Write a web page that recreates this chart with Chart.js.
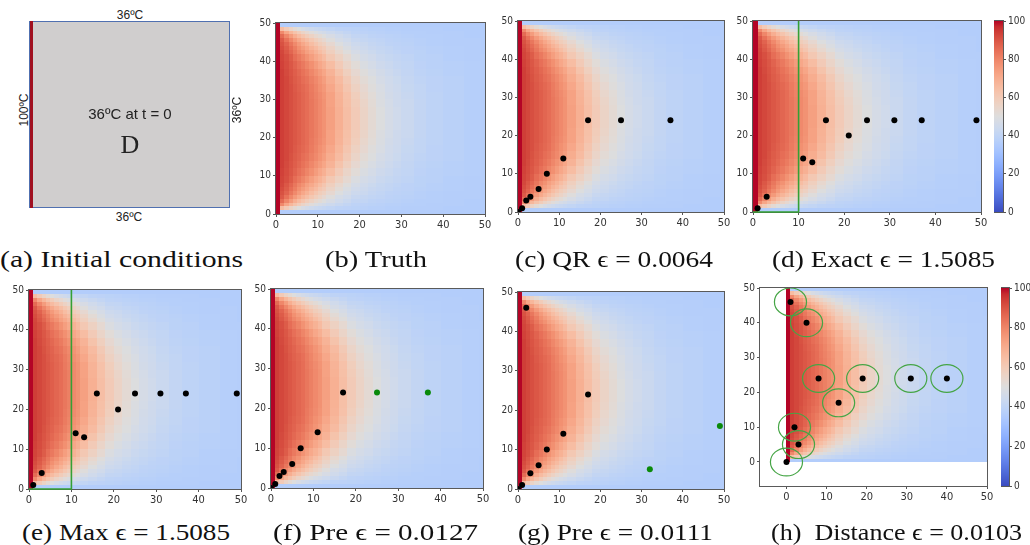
<!DOCTYPE html>
<html><head><meta charset="utf-8">
<script src="https://cdn.jsdelivr.net/npm/chart.js@4/dist/chart.umd.min.js"></script>
<style>
body{margin:0;background:#fff;width:1030px;height:545px;position:relative;overflow:hidden;font-family:'Liberation Sans',Arial,sans-serif}
.box{position:absolute}
.cap{position:absolute;font-family:'Liberation Serif','DejaVu Serif',serif;font-size:23px;line-height:26px;color:#111;white-space:pre;transform-origin:0 0}
.t{position:absolute;color:#222;white-space:nowrap;line-height:1}
</style></head><body>
<script>
// ---------------- data ----------------
const axisTicks = [0, 10, 20, 30, 40, 50];
const cbarTicks = [0, 20, 40, 60, 80, 100];
// temperature field, cells between these edges
const colEdges = [0,1,2,3,4,5,6,7,8,9,10,11,12,14,16,18,20,22,24,26,28,30,33,36,40,45,49,50];
const rowEdgesLower = [0,1,2,3,4,5,6,7,8,10,12,14,16,18,20,22,25];
// lower half rows (y from 0 to 25); the field is symmetric about y = 25
const tempLower = [
 [100,36,36,36,36,36,36,36,36,36,36,36,36,36,36,36,36,36,36,36,36,36,36,36,36,36,36],
 [100,65,60,56,52.5,50,47.5,46,44.5,43,42.5,41.5,40.5,39.5,39,38.5,38,37.5,37.5,37,37,36.5,36.5,36.5,36,36,36],
 [100,79,72,67,63,59.5,56,53.5,51,49,47,46,44,42.5,41,39.5,39,38.5,38,37.5,37.5,37,37,36.5,36.5,36,36],
 [100,85.5,79.5,74.5,69.5,65.5,62.5,59.5,56.5,54,52,50,47.5,45,43,41,40.5,39.5,39,38.5,38,37.5,37,37,36.5,36,36],
 [100,89,84,79.5,75,71,67.5,64.5,61.5,58.5,56,53.5,50.5,47,45,42.5,41.5,40.5,40,39,38.5,38,37.5,37,36.5,36.5,36],
 [100,90.5,87,83,79,75,71.5,68.5,65,62,59,57,53.5,49.5,47,44,43,41.5,40.5,39.5,39,38.5,37.5,37,36.5,36.5,36],
 [100,91.5,88.5,85,81.5,77.5,74.5,71.5,68,65.5,62,60,56,52,48.5,45.5,44,42.5,41.5,40.5,39.5,39,38,37.5,37,36.5,36],
 [100,92.5,89.5,86.5,83,79.5,77,73.5,71,68,65,62,58,54,50.5,47,45,43.5,42,41,40,39,38.5,37.5,37,36.5,36],
 [100,93,91,88.5,85,82.5,80,77,74,71,68.5,65.5,61,57,53,49,46.5,45,43,42,41,40,38.5,38,37,36.5,36.5],
 [100,93.5,91.5,89.5,87,84.5,82.5,80,77.5,74.5,71.5,69,65,60,55.5,51.5,48.5,46.5,44.5,43,41.5,40.5,39,38,37.5,37,36.5],
 [100,94,92,90,88,86,84,82,79.5,77,74.5,72,68,63,58,53.5,50.5,48,46,44,42.5,41,39.5,38.5,37.5,37,36.5],
 [100,94,92.5,90.5,88.5,87,85,83.5,81,79,76.5,74,70,65.5,60.5,55.5,52,49.5,47,45,43.5,41.5,40,39,38,37,36.5],
 [100,94,92.5,91,89,87.5,86,84.5,82,80,77.5,75.5,71.5,67,62,57,53.5,50.5,48,45.5,44,42,40.5,39,38,37,36.5],
 [100,94,92.5,91,89.5,88,86.5,85,82.5,80.5,78.5,76.5,73,68,63.5,58.5,54.5,51.5,48.5,46,44.5,42.5,40.5,39.5,38,37,36.5],
 [100,94,92.5,91,89.5,88,86.5,85,83,81,79,77,73,68.5,64,59.5,55.5,52,49,46.5,44.5,43,41,39.5,38,37,36.5],
 [100,94,92.5,91,89.5,88,86.5,85,83,81,79,77,73.5,69,64.5,60,56,52.5,49.5,47,45,43,41,39.5,38,37,36.5]
];
// sensor placements
const qrX = [0,1,2,3,5,7,11,17,25,37];
const qrY = [0,1,3,4,6,10,14,24,24,24];
const exactX = [1,3,11,13,16,21,25,31,37,49];
const exactY = [1,4,14,13,24,20,24,24,24,24];
const maxX = [1,3,11,13,16,21,25,31,37,49];
const maxY = [1,4,14,13,24,20,24,24,24,24];
const preAX = [0,1,2,3,5,7,11,17];
const preAY = [0,1,3,4,6,10,14,24];
const preAGreenX = [25,37];
const preAGreenY = [24,24];
const preBX = [0,1,3,5,7,11,17,2];
const preBY = [0,1,4,6,10,14,24,46];
const preBGreenX = [32,49];
const preBGreenY = [5,16];
const distX = [0,3,2,1,5,8,13,19,31,40];
const distY = [0,5,10,46,40,24,17,24,24,24];
const distRadius = 4;
// search region outline (bottom edge and right edge of the box [0,10] x [0,50])
const regionX = [0,10,10];
const regionY = [0,0,50];

// ---------------- colormap (coolwarm) ----------------
const COOLWARM = [[59,76,192],[68,90,204],[77,104,215],[87,117,225],[98,130,234],[108,142,241],[119,154,247],[130,165,251],[141,176,254],[152,185,255],[163,194,255],[174,201,253],[184,208,249],[194,213,244],[204,217,238],[213,219,230],[221,221,221],[229,216,209],[236,211,197],[241,204,185],[245,196,173],[247,187,160],[247,177,148],[247,166,135],[244,154,123],[241,141,111],[236,127,99],[231,112,88],[224,97,77],[216,81,66],[208,64,56],[198,44,47],[180,4,38]];
function cmap(v){
  const t = Math.max(0, Math.min(1, v/100)) * 32;
  const i = Math.min(31, Math.floor(t)), f = t - i;
  const a = COOLWARM[i], b = COOLWARM[i+1];
  return 'rgb(' + [0,1,2].map(k => Math.round(a[k] + (b[k]-a[k])*f)).join(',') + ')';
}
const pts = (xs, ys) => xs.map((x, i) => ({x, y: ys[i]}));

// full set of field rows (lower half + mirrored upper half)
const fieldRows = [];
for (let i = 0; i < tempLower.length; i++) {
  const lo = rowEdgesLower[i], hi = rowEdgesLower[i+1];
  fieldRows.push({lo, hi, vals: tempLower[i]});
  fieldRows.push({lo: 50 - hi, hi: 50 - lo, vals: tempLower[i]});
}

const FONT_TICK = "'Liberation Sans Narrow','DejaVu Sans Condensed','DejaVu Sans',sans-serif";

const heatPlugin = {
  id: 'heat',
  beforeDatasetsDraw(chart, args, o) {
    const {ctx, chartArea: a, scales: {x, y}} = chart;
    ctx.save();
    ctx.beginPath(); ctx.rect(a.left, a.top, a.right - a.left, a.bottom - a.top); ctx.clip();
    if (o.field) {
      fieldRows.forEach(r => {
        const top = Math.round(y.getPixelForValue(r.hi)), bot = Math.round(y.getPixelForValue(r.lo));
        for (let c = 0; c < colEdges.length - 1; c++) {
          const l = Math.round(x.getPixelForValue(colEdges[c])), rr = Math.round(x.getPixelForValue(colEdges[c+1]));
          ctx.fillStyle = cmap(r.vals[c]);
          ctx.fillRect(l, top, rr - l, bot - top);
        }
      });
    }
    if (o.circles) {
      ctx.strokeStyle = '#45a545'; ctx.lineWidth = 1.2;
      o.circles.x.forEach((cx, i) => {
        const cy = o.circles.y[i];
        const px = x.getPixelForValue(cx), py = y.getPixelForValue(cy);
        const rx = Math.abs(x.getPixelForValue(cx + o.circles.r) - px);
        const ry = Math.abs(y.getPixelForValue(cy + o.circles.r) - py);
        ctx.beginPath(); ctx.ellipse(px, py, rx, ry, 0, 0, Math.PI*2); ctx.stroke();
      });
    }
    ctx.restore();
    ctx.save();
    ctx.strokeStyle = '#5a5a5a'; ctx.lineWidth = 1;
    ctx.strokeRect(a.left - 0.5, a.top - 0.5, a.right - a.left + 1, a.bottom - a.top + 1);
    ctx.restore();
  }
};

function axisOpts(min, max, which, size, ticks) {
  return {
    type: 'linear', min, max,
    position: which === 'x' ? 'bottom' : (which === 'cb' ? 'right' : 'left'),
    afterBuildTicks: s => { s.ticks = ticks.map(v => ({value: v})); },
    afterFit: s => { if (which === 'x') s.height = size; else s.width = size; },
    ticks: {autoSkip: false, maxRotation: 0, padding: 2, color: '#333',
            font: {family: FONT_TICK, size: which === 'x' ? 11 : 10}, callback: v => String(v)},
    grid: {drawOnChartArea: false, drawTicks: true, tickLength: 3, color: '#555', lineWidth: 1},
    border: {display: false}
  };
}

function makeBox(left, top, W, H) {
  const div = document.createElement('div'); div.className = 'box';
  div.style.left = left + 'px'; div.style.top = top + 'px';
  div.style.width = W + 'px'; div.style.height = H + 'px';
  const cv = document.createElement('canvas'); cv.width = W; cv.height = H;
  cv.style.width = W + 'px'; cv.style.height = H + 'px';
  div.appendChild(cv); document.body.appendChild(div);
  return cv;
}

function makePanel(area, cfg) {
  const L = 32, T = 8, R = 12, B = 22;
  const w = area[2] - area[0], h = area[3] - area[1];
  const W = w + L + R, H = h + T + B;
  const cv = makeBox(area[0] - L, area[1] - T, W, H);
  new Chart(cv, {
    type: 'scatter',
    data: {datasets: cfg.datasets},
    options: {
      responsive: false, animation: false, devicePixelRatio: 1,
      layout: {padding: {left: 0, top: T, right: R, bottom: 0}},
      plugins: {legend: {display: false}, tooltip: {enabled: false},
                heat: {field: true, circles: cfg.circles || null}},
      scales: {x: axisOpts(cfg.xMin ?? 0, 50, 'x', B, axisTicks),
               y: axisOpts(cfg.yMin ?? 0, 50, 'y', L, axisTicks)}
    },
    plugins: [heatPlugin]
  });
}

const cbarPlugin = {
  id: 'cbar',
  beforeDatasetsDraw(chart) {
    const {ctx, chartArea: a, scales: {y}} = chart;
    const g = ctx.createLinearGradient(0, y.getPixelForValue(0), 0, y.getPixelForValue(100));
    COOLWARM.forEach((c, i) => g.addColorStop(i/32, 'rgb(' + c.join(',') + ')'));
    ctx.save();
    ctx.fillStyle = g; ctx.fillRect(a.left, a.top, a.right - a.left, a.bottom - a.top);
    ctx.strokeStyle = '#5a5a5a'; ctx.lineWidth = 1;
    ctx.strokeRect(a.left - 0.5, a.top - 0.5, a.right - a.left + 1, a.bottom - a.top + 1);
    ctx.restore();
  }
};

function makeColorbar(area) {
  const T = 8, B = 8, R = 30, P = 2;
  const w = area[2] - area[0], h = area[3] - area[1];
  const cv = makeBox(area[0], area[1] - T, w + R + P, h + T + B);
  new Chart(cv, {
    type: 'scatter', data: {datasets: []},
    options: {
      responsive: false, animation: false, devicePixelRatio: 1,
      layout: {padding: {left: 0, top: T, right: P, bottom: B}},
      plugins: {legend: {display: false}, tooltip: {enabled: false}},
      scales: {x: {display: false, min: 0, max: 1}, y: axisOpts(0, 100, 'cb', R, cbarTicks)}
    },
    plugins: [cbarPlugin]
  });
}

const black = (xs, ys) => ({data: pts(xs, ys), backgroundColor: '#000', borderWidth: 0, pointRadius: 3});
const green = (xs, ys) => ({data: pts(xs, ys), backgroundColor: '#0a8a0a', borderWidth: 0, pointRadius: 3});
const region = () => ({type: 'line', data: pts(regionX, regionY), borderColor: '#35a035', borderWidth: 1.6,
                       pointRadius: 0, showLine: true, fill: false, clip: false, tension: 0});

// ---------------- panels ----------------
makePanel([276, 23, 485, 214], {datasets: []});
makePanel([518, 21, 724, 212], {datasets: [black(qrX, qrY)]});
makePanel([753, 21, 981, 212], {datasets: [region(), black(exactX, exactY)]});
makeColorbar([994, 21, 1003, 212]);
makePanel([29, 290, 241, 489], {datasets: [region(), black(maxX, maxY)]});
makePanel([271, 289, 483, 488], {datasets: [black(preAX, preAY), green(preAGreenX, preAGreenY)]});
makePanel([518, 292, 724, 489], {datasets: [black(preBX, preBY), green(preBGreenX, preBGreenY)]});
makePanel([760, 288, 987, 486], {datasets: [black(distX, distY)], xMin: -6.6, yMin: -6.9,
  circles: {x: distX, y: distY, r: distRadius}});
makeColorbar([1001, 288, 1009, 486]);

// ---------------- panel (a): initial conditions diagram ----------------
function addDiv(cls, text, css) {
  const d = document.createElement('div'); d.className = cls; d.textContent = text;
  Object.assign(d.style, css); document.body.appendChild(d); return d;
}
addDiv('box', '', {left: '29px', top: '21px', width: '199px', height: '185px', background: '#d0cece', border: '1px solid #5070b0'});
addDiv('box', '', {left: '30px', top: '21px', width: '3px', height: '187px', background: '#a01020'});
const deg = '36\u00BAC';
function centered(text, cx, cy, size, rot, family) {
  const d = addDiv('t', text, {fontSize: size + 'px', fontFamily: family || "'Liberation Sans',Arial,sans-serif"});
  const r = d.getBoundingClientRect();
  d.style.left = (cx - r.width/2) + 'px'; d.style.top = (cy - r.height/2) + 'px';
  if (rot) d.style.transform = 'rotate(-90deg)';
  return d;
}
centered(deg, 130, 15, 12);
centered(deg, 129, 217, 12);
centered('100\u00BAC', 24, 110, 12, true);
centered(deg, 237, 110, 12, true);
centered('36\u00BAC at t = 0', 130, 113, 15);
centered('D', 130, 145, 26, false, "'Liberation Serif','DejaVu Serif',serif");

// ---------------- captions ----------------
const captions = [
  ['(a) Initial conditions', 0, 243, 260],
  ['(b) Truth', 325, 427, 260],
  ['(c) QR \u03F5 = 0.0064', 515, 713, 260],
  ['(d) Exact \u03F5 = 1.5085', 772, 995, 260],
  ['(e) Max \u03F5 = 1.5085', 22, 230, 533],
  ['(f) Pre \u03F5 = 0.0127', 273, 478, 533],
  ['(g) Pre \u03F5 = 0.0111', 518, 713, 533],
  ['(h)  Distance \u03F5 = 0.0103', 771, 1022, 533]
];
captions.forEach(([txt, x0, x1, cy]) => {
  const d = addDiv('cap', txt, {left: x0 + 'px', top: (cy - 13) + 'px'});
  const wdt = d.getBoundingClientRect().width;
  d.style.transform = 'scaleX(' + ((x1 - x0) / wdt).toFixed(4) + ')';
});
</script>
</body></html>
